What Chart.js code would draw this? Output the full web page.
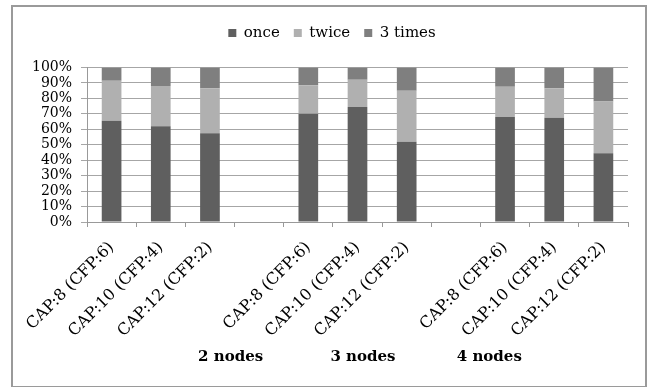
<!DOCTYPE html>
<html>
<head>
<meta charset="utf-8">
<script src="https://cdn.jsdelivr.net/npm/chart.js@4/dist/chart.umd.min.js"></script>
<style>
  html, body { margin: 0; padding: 0; background: #fff; }
  #wrap { position: relative; width: 648px; height: 387px; }
  #frame { position: absolute; left: 11px; top: 5px; width: 632px; height: 379px;
           border: 2px solid #9a9a9a; pointer-events: none; }
</style>
</head>
<body>
<div id="wrap">
  <canvas id="chart" width="648" height="387"></canvas>
  <div id="frame"></div>
</div>
<script>
'use strict';
// categories (blank slots separate the node groups)
var categories = ['CAP:8 (CFP:6)', 'CAP:10 (CFP:4)', 'CAP:12 (CFP:2)', '',
                  'CAP:8 (CFP:6)', 'CAP:10 (CFP:4)', 'CAP:12 (CFP:2)', '',
                  'CAP:8 (CFP:6)', 'CAP:10 (CFP:4)', 'CAP:12 (CFP:2)'];
var groupNames = ['2 nodes', '3 nodes', '4 nodes'];
// percentages
var once   = [65.5, 62, 57.5, null, 70, 74.5, 52, null, 68, 67.5, 44.5];
var twice  = [26, 26, 29, null, 18.5, 17.5, 33, null, 19.5, 19, 33.5];
var thrice = [8.5, 12, 13.5, null, 11.5, 8, 15, null, 12.5, 13.5, 22];

var font = 'DejaVu Serif';

// the group names sit under the rotated labels, a bit off centre like in the original
var groupLabels = {
	id: 'groupLabels',
	beforeInit: function(chart) {
		var fit = chart.legend.fit;
		chart.legend.fit = function() {
			fit.call(this);
			this.height = 56;
		};
	},
	afterLayout: function(chart) {
		// nudge the legend row a little to the right
		chart.legend.left += 4;
		chart.legend.right += 4;
	},
	afterDraw: function(chart) {
		var ctx = chart.ctx;
		var x = chart.scales.x;
		var at = [2.42, 5.11, 7.68];
		ctx.save();
		ctx.font = 'bold 15px "' + font + '"';
		ctx.fillStyle = '#000';
		ctx.textAlign = 'center';
		ctx.textBaseline = 'middle';
		groupNames.forEach(function(name, i) {
			ctx.fillText(name, x.getPixelForValue(at[i]), chart.chartArea.bottom + 135);
		});
		ctx.restore();
	}
};

var ctx = document.getElementById('chart').getContext('2d');
var chart = new Chart(ctx, {
	type: 'bar',
	data: {
		labels: categories,
		datasets: [
			{ label: 'once', data: once, backgroundColor: '#5f5f5f' },
			{ label: 'twice', data: twice, backgroundColor: '#b0b0b0' },
			{ label: '3 times', data: thrice, backgroundColor: '#7f7f7f' }
		]
	},
	options: {
		responsive: false,
		animation: false,
		datasets: {
			bar: { barPercentage: 0.4, categoryPercentage: 1 }
		},
		layout: {
			padding: { left: 28, right: 20, top: 11.5, bottom: 0 }
		},
		plugins: {
			legend: {
				display: true,
				position: 'top',
				labels: {
					boxWidth: 8,
					boxHeight: 8,
					padding: 14,
					color: '#000',
					font: { family: font, size: 15 }
				}
			},
			tooltip: { enabled: false }
		},
		scales: {
			x: {
				stacked: true,
				grid: { drawOnChartArea: false, drawTicks: true, tickLength: 5, color: '#999' },
				border: { color: '#999' },
				ticks: {
					minRotation: 45,
					maxRotation: 45,
					autoSkip: false,
					padding: 11,
					color: '#000',
					font: { family: font, size: 16 }
				},
				afterFit: function(scale) { scale.height = 165; }
			},
			y: {
				stacked: true,
				min: 0,
				max: 100,
				grid: { color: '#a6a6a6', tickLength: 6 },
				border: { color: '#999' },
				ticks: {
					stepSize: 10,
					autoSkip: false,
					padding: 9,
					color: '#000',
					font: { family: font, size: 14 },
					callback: function(v) { return v + '%'; }
				},
				afterFit: function(scale) { scale.width = 59; }
			}
		}
	},
	plugins: [groupLabels]
});
</script>
</body>
</html>
